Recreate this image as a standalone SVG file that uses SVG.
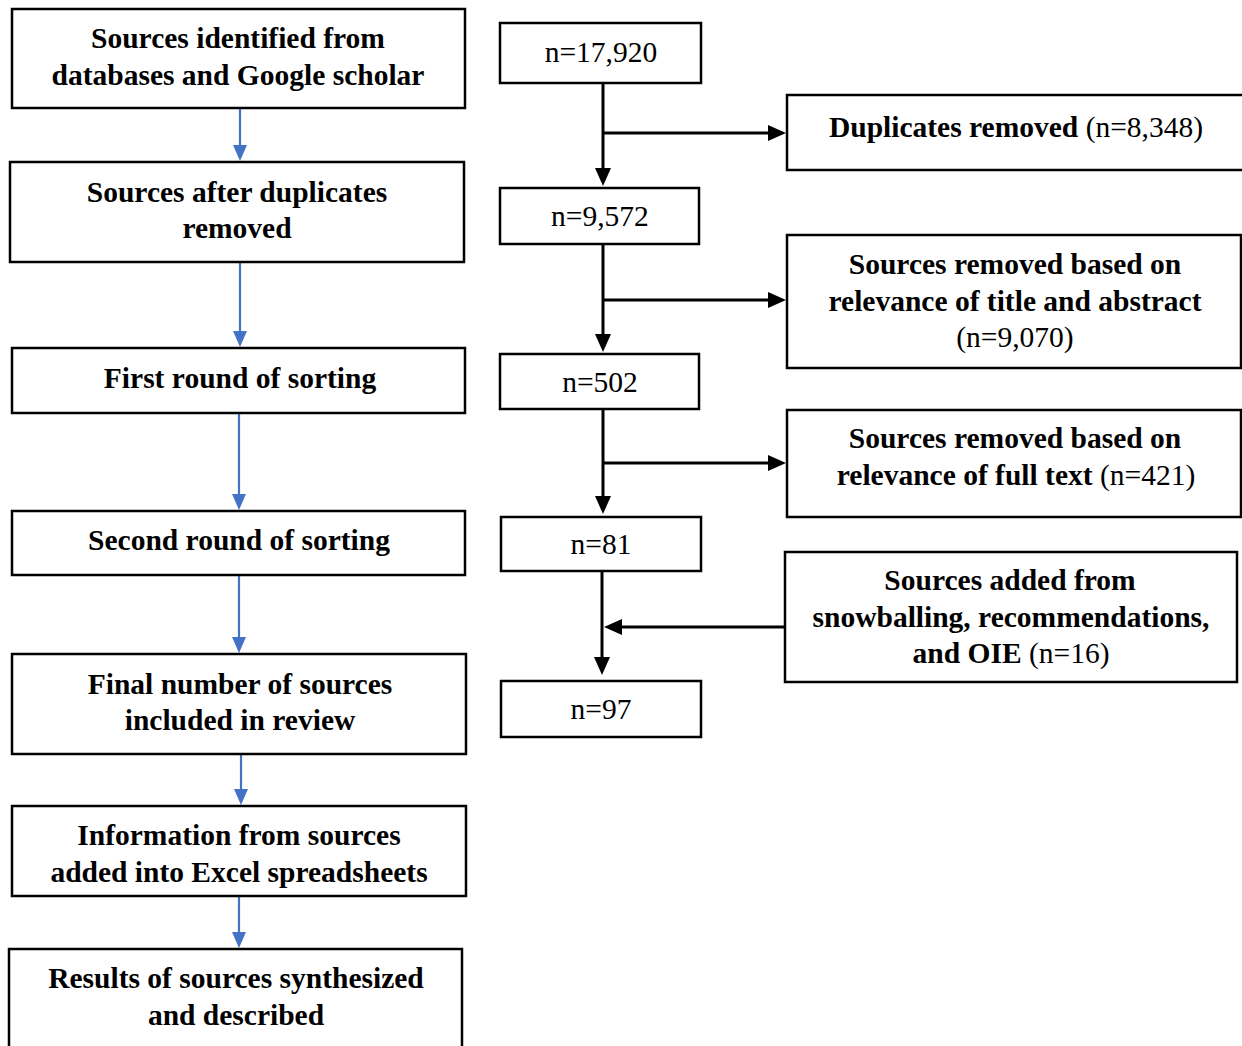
<svg xmlns="http://www.w3.org/2000/svg" width="1242" height="1046" viewBox="0 0 1242 1046">
<style>
.box{fill:#fff;stroke:#000;stroke-width:2.5}
.t{font-family:"Liberation Serif","Times New Roman",serif;font-size:29.5px;font-weight:bold;fill:#000;text-anchor:middle}
.r{font-weight:normal}
.blue{stroke:#4472C4;stroke-width:2.2;fill:none}
.blk{stroke:#000;stroke-width:3;fill:none}
</style>
<defs>
<marker id="ab" markerUnits="userSpaceOnUse" viewBox="0 0 16 14" markerWidth="16" markerHeight="14" refX="8" refY="7" orient="auto">
<path d="M0,0 L16,7 L0,14 z" fill="#4472C4"/>
</marker>
<marker id="ak" markerUnits="userSpaceOnUse" viewBox="0 0 18 16" markerWidth="18" markerHeight="16" refX="10" refY="8" orient="auto">
<path d="M0,0 L18,8 L0,16 z" fill="#000"/>
</marker>
</defs>
<rect width="1242" height="1046" fill="#fff"/>

<g id="connectors">
<line class="blue" x1="240" y1="108" x2="240" y2="153" marker-end="url(#ab)"/>
<line class="blue" x1="240" y1="262" x2="240" y2="339" marker-end="url(#ab)"/>
<line class="blue" x1="239" y1="413" x2="239" y2="502" marker-end="url(#ab)"/>
<line class="blue" x1="239" y1="575" x2="239" y2="645" marker-end="url(#ab)"/>
<line class="blue" x1="241" y1="754" x2="241" y2="797" marker-end="url(#ab)"/>
<line class="blue" x1="239" y1="896" x2="239" y2="940" marker-end="url(#ab)"/>

<line class="blk" x1="603" y1="83" x2="603" y2="178" marker-end="url(#ak)"/>
<line class="blk" x1="603" y1="133" x2="778" y2="133" marker-end="url(#ak)"/>
<line class="blk" x1="603" y1="244" x2="603" y2="344" marker-end="url(#ak)"/>
<line class="blk" x1="603" y1="300" x2="778" y2="300" marker-end="url(#ak)"/>
<line class="blk" x1="603" y1="409" x2="603" y2="506" marker-end="url(#ak)"/>
<line class="blk" x1="603" y1="463" x2="778" y2="463" marker-end="url(#ak)"/>
<line class="blk" x1="602" y1="571" x2="602" y2="667" marker-end="url(#ak)"/>
<line class="blk" x1="785" y1="627" x2="612" y2="627" marker-end="url(#ak)"/>
</g>

<g id="identified">
<rect class="box" x="12" y="9" width="453" height="99"/>
<text class="t" x="238" y="48">Sources identified from</text>
<text class="t" x="238" y="85">databases and Google scholar</text>
</g>
<g id="after-duplicates">
<rect class="box" x="10" y="162" width="454" height="100"/>
<text class="t" x="237" y="202">Sources after duplicates</text>
<text class="t" x="237" y="238">removed</text>
</g>
<g id="first-round">
<rect class="box" x="12" y="348" width="453" height="65"/>
<text class="t" x="240" y="388">First round of sorting</text>
</g>
<g id="second-round">
<rect class="box" x="12" y="511" width="453" height="64"/>
<text class="t" x="239" y="550">Second round of sorting</text>
</g>
<g id="final-number">
<rect class="box" x="12" y="654" width="454" height="100"/>
<text class="t" x="240" y="694">Final number of sources</text>
<text class="t" x="240" y="730">included in review</text>
</g>
<g id="information">
<rect class="box" x="12" y="806" width="454" height="90"/>
<text class="t" x="239" y="845">Information from sources</text>
<text class="t" x="239" y="882">added into Excel spreadsheets</text>
</g>
<g id="results">
<rect class="box" x="9" y="949" width="453" height="110"/>
<text class="t" x="236" y="988">Results of sources synthesized</text>
<text class="t" x="236" y="1025">and described</text>
</g>

<g id="n17920">
<rect class="box" x="500" y="23" width="201" height="60"/>
<text class="t r" x="601" y="62">n=17,920</text>
</g>
<g id="n9572">
<rect class="box" x="500" y="188" width="199" height="56"/>
<text class="t r" x="600" y="226">n=9,572</text>
</g>
<g id="n502">
<rect class="box" x="500" y="354" width="199" height="55"/>
<text class="t r" x="600" y="392">n=502</text>
</g>
<g id="n81">
<rect class="box" x="501" y="517" width="200" height="54"/>
<text class="t r" x="601" y="554">n=81</text>
</g>
<g id="n97">
<rect class="box" x="501" y="681" width="200" height="56"/>
<text class="t r" x="601" y="719">n=97</text>
</g>

<g id="duplicates-removed">
<rect class="box" x="787" y="95" width="470" height="75"/>
<text class="t" x="1016" y="137">Duplicates removed <tspan class="r">(n=8,348)</tspan></text>
</g>
<g id="removed-title-abstract">
<rect class="box" x="787" y="235" width="454" height="133"/>
<text class="t" x="1015" y="274">Sources removed based on</text>
<text class="t" x="1015" y="311">relevance of title and abstract</text>
<text class="t r" x="1015" y="347">(n=9,070)</text>
</g>
<g id="removed-full-text">
<rect class="box" x="787" y="410" width="454" height="107"/>
<text class="t" x="1015" y="448">Sources removed based on</text>
<text class="t" x="1016" y="485">relevance of full text <tspan class="r">(n=421)</tspan></text>
</g>
<g id="sources-added">
<rect class="box" x="785" y="552" width="452" height="130"/>
<text class="t" x="1010" y="590">Sources added from</text>
<text class="t" x="1011" y="627">snowballing, recommendations,</text>
<text class="t" x="1011" y="663">and OIE <tspan class="r">(n=16)</tspan></text>
</g>
</svg>
